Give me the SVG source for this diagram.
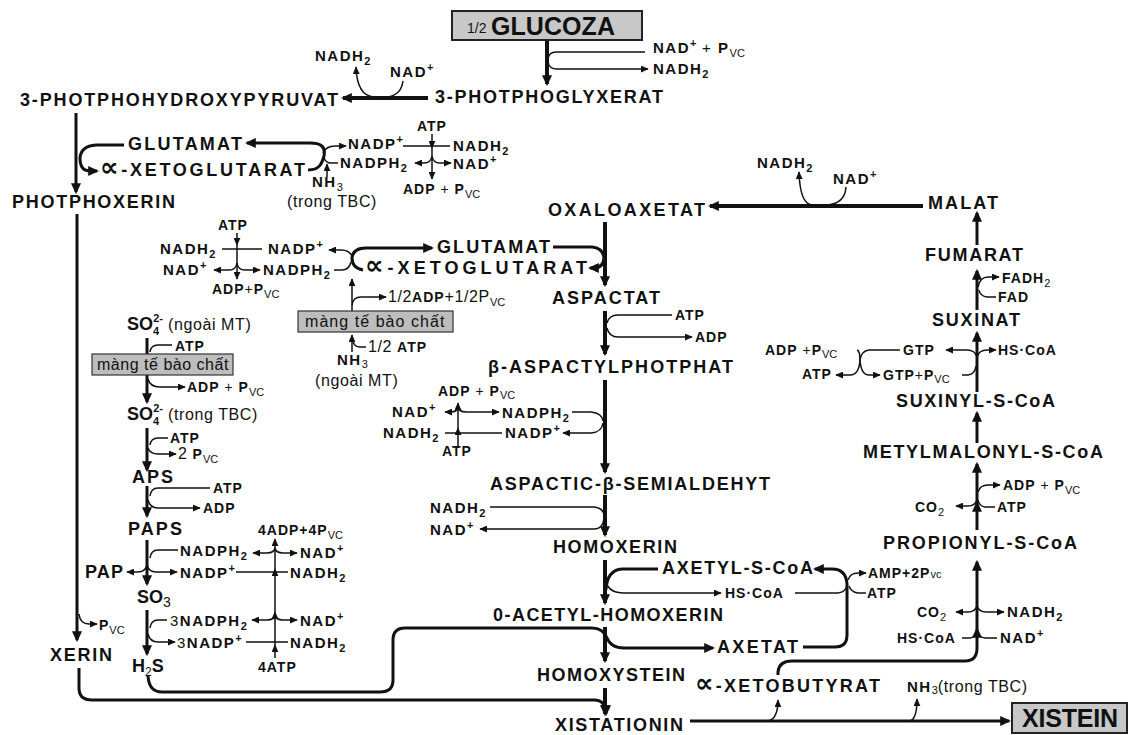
<svg xmlns="http://www.w3.org/2000/svg" width="1132" height="735" viewBox="0 0 1132 735">
<style>
.m{font-family:"Liberation Sans",Arial,"DejaVu Sans",sans-serif;font-weight:bold;font-size:18px;fill:#111}
.al{font-family:"DejaVu Sans",sans-serif;font-weight:bold;font-size:26px}
.big{font-family:"Liberation Sans",Arial,sans-serif;font-weight:bold;font-size:25px;fill:#111}
.n{font-family:"Liberation Sans",Arial,sans-serif;font-weight:bold;font-size:15px;letter-spacing:1.5px;fill:#111}
.s{font-family:"Liberation Sans",Arial,sans-serif;font-weight:bold;font-size:14px;letter-spacing:1px;fill:#111}
.r{font-family:"Liberation Sans",Arial,sans-serif;font-weight:normal;font-size:16px;letter-spacing:0.6px;fill:#111}
.sb{font-size:11px;letter-spacing:0}
.sbr{font-size:11px;font-weight:normal;letter-spacing:0}
.rr{font-weight:normal}
.k{stroke:#111;fill:none;stroke-width:4}
.t{stroke:#111;fill:none;stroke-width:3}
.h{stroke:#111;fill:none;stroke-width:1.5}
.box{fill:#c8c8c8;stroke:#222;stroke-width:2}
.mem{fill:#bdbdbd;stroke:#333;stroke-width:1.2}
</style>
<defs>
<marker id="a" viewBox="0 0 10 10" refX="9" refY="5" markerWidth="8" markerHeight="7" markerUnits="userSpaceOnUse" orient="auto" preserveAspectRatio="none"><path d="M0,0 L10,5 L0,10 z" fill="#111"/></marker>
<marker id="A" viewBox="0 0 10 10" refX="8" refY="5" markerWidth="11" markerHeight="10" markerUnits="userSpaceOnUse" orient="auto" preserveAspectRatio="none"><path d="M0,0 L10,5 L0,10 z" fill="#111"/></marker>
</defs>
<rect width="1132" height="735" fill="#fff"/>

<g id="connectors">
<path class="k" d="M547 41 L547 84" marker-end="url(#A)"/>
<path class="k" d="M428 98 L343 98" marker-end="url(#A)"/>
<path class="t" d="M76 113 L76 192" marker-end="url(#A)"/>
<path class="t" d="M77 214 L77 640" marker-end="url(#A)"/>
<path class="t" d="M79 668 L79 688 Q79 700 92 700 L594 700 Q606 700 606 714" marker-end="url(#A)"/>
<path class="k" d="M605 222 L605 285" marker-end="url(#A)"/>
<path class="k" d="M605 311 L605 354" marker-end="url(#A)"/>
<path class="k" d="M605 380 L605 472" marker-end="url(#A)"/>
<path class="k" d="M605 495 L605 535" marker-end="url(#A)"/>
<path class="k" d="M605 560 L605 603" marker-end="url(#A)"/>
<path class="k" d="M605 627 L605 661" marker-end="url(#A)"/>
<path class="k" d="M605 688 L605 714" marker-end="url(#A)"/>
<path class="k" d="M923 206 L710 206" marker-end="url(#A)"/>
<path class="t" d="M977 245 L977 213" marker-end="url(#A)"/>
<path class="t" d="M977 310 L977 271" marker-end="url(#A)"/>
<path class="t" d="M977 392 L977 333" marker-end="url(#A)"/>
<path class="t" d="M977 443 L977 413" marker-end="url(#A)"/>
<path class="t" d="M977 530 L977 503" marker-end="url(#A)"/>
<path class="t" d="M977 503 L977 464" marker-end="url(#A)"/>
<path class="t" d="M778 675 L778 672 Q779 661 792 661 L965 661 Q977 661 977 648 L977 629" marker-end="url(#A)"/>
<path class="t" d="M977 629 L977 562" marker-end="url(#A)"/>
<path class="t" d="M124 145 L96 145 Q81 146 80 158 Q80 171 90 171 L97 171" marker-end="url(#A)"/>
<path class="t" d="M308 170 C320 170 322 163 324 156 C326 146 320 143 310 143 L247 143" marker-end="url(#A)"/>
<path class="t" d="M363 270 Q352 268 352 258 Q353 248 366 248 L432 248" marker-end="url(#A)"/>
<path class="t" d="M553 247 L592 247 Q603 248 604 258 Q603 268 594 268 L590 268" marker-end="url(#A)"/>
<path class="t" d="M147 338 L147 402" marker-end="url(#A)"/>
<path class="t" d="M147 428 L147 470" marker-end="url(#A)"/>
<path class="t" d="M147 486 L147 516" marker-end="url(#A)"/>
<path class="t" d="M147 540 L147 584" marker-end="url(#A)"/>
<path class="t" d="M147 610 L147 654" marker-end="url(#A)"/>
<path class="t" d="M148 676 Q149 692 162 692 L380 692 Q393 692 393 680 L393 640 Q393 628 405 628 L592 628 Q603 628 607 638 Q611 648 624 648 L713 648" marker-end="url(#A)"/>
<path class="t" d="M606 590 Q607 570 622 569 L658 569"/>
<path class="t" d="M803 647 L835 647 Q847 647 847 635 L847 584 Q846 569 832 569 L815 569" marker-end="url(#A)"/>
<path class="t" d="M690 721 L1009 721" marker-end="url(#A)"/>

<path class="h" d="M645 52 L556 52 Q549 52 548 59"/>
<path class="h" d="M548 62 Q549 69 557 69 L648 69" marker-end="url(#a)"/>
<path class="h" d="M403 81 Q401 96 386 97 L374 97 Q357 96 356 67" marker-end="url(#a)"/>
<path class="h" d="M323 153 Q326 146 335 146 L346 146" marker-end="url(#a)"/>
<path class="h" d="M338 163 L331 163 Q326 163 324 158"/>
<path class="h" d="M327 177 L327 164" marker-end="url(#a)"/>
<path class="h" d="M432 134 L432 148" marker-end="url(#a)"/>
<path class="h" d="M432 148 L432 179" marker-end="url(#a)"/>
<path class="h" d="M403 146 L450 146"/>
<path class="h" d="M432 156 Q431 163 424 163 L415 163" marker-end="url(#a)"/>
<path class="h" d="M432 156 Q433 163 440 163 L451 163" marker-end="url(#a)"/>

<path class="h" d="M237 233 L237 245" marker-end="url(#a)"/>
<path class="h" d="M237 245 L237 279" marker-end="url(#a)"/>
<path class="h" d="M222 249 L262 249"/>
<path class="h" d="M237 263 Q236 270 229 270 L214 270" marker-end="url(#a)"/>
<path class="h" d="M237 263 Q238 270 245 270 L260 270" marker-end="url(#a)"/>
<path class="h" d="M352 256 Q349 250 341 250 L329 250" marker-end="url(#a)"/>
<path class="h" d="M334 270 L342 270 Q349 270 351 262"/>
<path class="h" d="M352 352 L352 335" marker-end="url(#a)"/>
<path class="h" d="M352 311 L352 279" marker-end="url(#a)"/>
<path class="h" d="M352 305 Q353 297 361 297 L386 297" marker-end="url(#a)"/>
<path class="h" d="M366 347 L360 347 Q354 347 353 341"/>

<path class="h" d="M150 352 Q151 345 158 345 L172 345"/>
<path class="h" d="M148 379 Q150 387 160 387 L185 387" marker-end="url(#a)"/>
<path class="h" d="M150 445 Q151 438 158 438 L168 438"/>
<path class="h" d="M148 448 Q150 454 158 454 L176 454" marker-end="url(#a)"/>
<path class="h" d="M150 496 Q151 488 158 488 L210 488"/>
<path class="h" d="M148 500 Q150 508 158 508 L200 508" marker-end="url(#a)"/>
<path class="h" d="M150 558 Q151 550 158 550 L178 550"/>
<path class="h" d="M147 565 Q145 572 138 572 L127 572" marker-end="url(#a)"/>
<path class="h" d="M147 565 Q149 572 156 572 L177 572" marker-end="url(#a)"/>
<path class="h" d="M150 628 Q151 620 158 620 L167 620"/>
<path class="h" d="M148 634 Q150 642 158 642 L175 642" marker-end="url(#a)"/>

<path class="h" d="M275 658 L275 645" marker-end="url(#a)"/>
<path class="h" d="M275 645 L275 612" marker-end="url(#a)"/>
<path class="h" d="M275 612 L275 569" marker-end="url(#a)"/>
<path class="h" d="M275 569 L275 539" marker-end="url(#a)"/>
<path class="h" d="M275 548 Q274 553 267 553 L253 553" marker-end="url(#a)"/>
<path class="h" d="M275 548 Q276 553 283 553 L297 553" marker-end="url(#a)"/>
<path class="h" d="M236 572 L288 572"/>
<path class="h" d="M275 615 Q274 620 267 620 L252 620" marker-end="url(#a)"/>
<path class="h" d="M275 615 Q276 620 283 620 L297 620" marker-end="url(#a)"/>
<path class="h" d="M246 642 L288 642"/>
<path class="h" d="M79 614 Q80 624 89 624 L97 624" marker-end="url(#a)"/>

<path class="h" d="M607 323 Q609 315 618 315 L672 315"/>
<path class="h" d="M607 328 Q609 337 618 337 L692 337" marker-end="url(#a)"/>
<path class="h" d="M572 412 L591 412 Q602 413 603 421"/>
<path class="h" d="M603 423 Q602 432 591 433 L563 433" marker-end="url(#a)"/>
<path class="h" d="M458 448 L458 428" marker-end="url(#a)"/>
<path class="h" d="M458 428 L458 403" marker-end="url(#a)"/>
<path class="h" d="M458 407 Q457 412 451 412 L445 412" marker-end="url(#a)"/>
<path class="h" d="M458 407 Q459 412 466 412 L499 412" marker-end="url(#a)"/>
<path class="h" d="M445 433 L502 433"/>
<path class="h" d="M490 507 L594 507 Q603 508 604 515"/>
<path class="h" d="M604 518 Q603 529 594 529 L480 529" marker-end="url(#a)"/>

<path class="h" d="M606 582 Q609 593 624 593 L721 593" marker-end="url(#a)"/>
<path class="h" d="M795 593 L838 593 Q846 592 847 585"/>
<path class="h" d="M848 580 Q850 573 858 573 L866 573" marker-end="url(#a)"/>
<path class="h" d="M866 593 L858 593 Q851 592 849 586"/>
<path class="h" d="M768 721 Q778 719 778 700" marker-end="url(#a)"/>
<path class="h" d="M910 721 Q917 719 917 699" marker-end="url(#a)"/>

<path class="h" d="M846 187 Q845 204 826 205 L812 205 Q800 204 799 172" marker-end="url(#a)"/>
<path class="h" d="M978 287 Q980 277 988 277 L999 277" marker-end="url(#a)"/>
<path class="h" d="M996 297 L987 297 Q980 296 979 290"/>
<path class="h" d="M977 357 Q975 350 967 350 L946 350" marker-end="url(#a)"/>
<path class="h" d="M977 357 Q979 350 987 350 L996 350" marker-end="url(#a)"/>
<path class="h" d="M962 375 L968 375 Q975 374 976 366"/>
<path class="h" d="M857 350 Q860 351 860 360"/>
<path class="h" d="M900 350 L869 350 Q861 351 860 360"/>
<path class="h" d="M860 360 Q859 375 850 375 L836 375" marker-end="url(#a)"/>
<path class="h" d="M860 360 Q861 375 869 375 L880 375" marker-end="url(#a)"/>
<path class="h" d="M978 492 Q980 485 988 485 L1000 485" marker-end="url(#a)"/>
<path class="h" d="M977 500 Q975 506 968 506 L956 506" marker-end="url(#a)"/>
<path class="h" d="M995 507 L985 507 Q979 506 978 500"/>
<path class="h" d="M977 606 Q975 612 968 612 L956 612" marker-end="url(#a)"/>
<path class="h" d="M977 606 Q979 612 986 612 L1004 612" marker-end="url(#a)"/>
<path class="h" d="M962 638 L970 638 Q976 637 977 631"/>
<path class="h" d="M997 638 L985 638 Q978 637 977 631"/>
</g>

<g id="glucoza"><rect class="box" x="452" y="11" width="190" height="29"/><text x="467" y="33" font-family="Liberation Sans, Arial, sans-serif" font-size="14" fill="#111">1/2</text><text class="big" x="491" y="35" textLength="124">GLUCOZA</text></g>
<g id="c-nadp-pvc"><text class="n" x="653" y="53">NAD<tspan class="sb" dy="-6">+</tspan><tspan class="rr" dy="6"> + </tspan>P<tspan class="sbr" dy="4">VC</tspan></text></g>
<g id="c-nadh2-a"><text class="n" x="653" y="74">NADH<tspan class="sb" dy="4">2</tspan></text></g>
<g id="pglyxerat"><text class="m" x="435" y="103" textLength="228">3-PHOTPHOGLYXERAT</text></g>
<g id="c-nad-a"><text class="n" x="390" y="77">NAD<tspan class="sb" dy="-6">+</tspan></text></g>
<g id="c-nadh2-b"><text class="n" x="315" y="61">NADH<tspan class="sb" dy="4">2</tspan></text></g>
<g id="phpyruvat"><text class="m" x="20" y="106" textLength="318">3-PHOTPHOHYDROXYPYRUVAT</text></g>
<g id="photphoxerin"><text class="m" x="12" y="208" textLength="163">PHOTPHOXERIN</text></g>
<g id="glutamat1"><text class="m" x="128" y="150" textLength="114">GLUTAMAT</text></g>
<g id="xetoglutarat1"><text class="m" x="100" y="176" textLength="205"><tspan class="al">∝</tspan>-XETOGLUTARAT</text></g>
<g id="c-nadp-b"><text class="n" x="348" y="149">NADP<tspan class="sb" dy="-6">+</tspan></text></g>
<g id="c-nadph2-b"><text class="n" x="340" y="168">NADPH<tspan class="sb" dy="4">2</tspan></text></g>
<g id="nh3-a"><text class="n" x="312" y="187">NH<tspan class="sbr" dy="4">3</tspan></text><text class="r" x="287" y="207" textLength="90">(trong TBC)</text></g>
<g id="c-atp-b"><text class="s" x="417" y="131">ATP</text></g>
<g id="c-nadh2-c"><text class="n" x="453" y="151">NADH<tspan class="sb" dy="4">2</tspan></text></g>
<g id="c-nad-c"><text class="n" x="453" y="169">NAD<tspan class="sb" dy="-6">+</tspan></text></g>
<g id="c-adp-c"><text class="s" x="403" y="194">ADP<tspan class="rr"> + </tspan>P<tspan class="sbr" dy="4">VC</tspan></text></g>

<g id="c-atp-d"><text class="s" x="218" y="230">ATP</text></g>
<g id="c-nadh2-d"><text class="n" x="160" y="254">NADH<tspan class="sb" dy="4">2</tspan></text></g>
<g id="c-nadp-d"><text class="n" x="268" y="254">NADP<tspan class="sb" dy="-6">+</tspan></text></g>
<g id="c-nad-d"><text class="n" x="163" y="275">NAD<tspan class="sb" dy="-6">+</tspan></text></g>
<g id="c-nadph2-d"><text class="n" x="263" y="275">NADPH<tspan class="sb" dy="4">2</tspan></text></g>
<g id="c-adp-d"><text class="s" x="212" y="294">ADP<tspan class="rr">+</tspan>P<tspan class="sbr" dy="4">VC</tspan></text></g>
<g id="glutamat2"><text class="m" x="437" y="253" textLength="113">GLUTAMAT</text></g>
<g id="xetoglutarat2"><text class="m" x="365" y="274" textLength="222"><tspan class="al">∝</tspan>-XETOGLUTARAT</text></g>
<g id="c-halfadp"><text class="r" x="388" y="302" font-size="14">1/2<tspan class="s">ADP</tspan>+1/2P<tspan class="sb" dy="4">VC</tspan></text></g>
<g id="membrane2"><rect class="mem" x="298" y="311" width="155" height="21"/><text class="r" x="305" y="327" font-size="15" textLength="140">màng tế bào chất</text></g>
<g id="c-halfatp"><text class="r" x="368" y="352" font-size="14">1/2 <tspan class="s">ATP</tspan></text></g>
<g id="nh3-b"><text class="n" x="337" y="365">NH<tspan class="sbr" dy="3">3</tspan></text><text class="r" x="315" y="386">(ngoài MT)</text></g>

<g id="so4-out"><text class="m" x="127" y="330">SO<tspan class="sb" dy="5">4</tspan><tspan class="sb" dx="-6" dy="-13">2-</tspan></text><text class="r" x="168" y="330">(ngoài MT)</text></g>
<g id="c-atp-e"><text class="s" x="175" y="351">ATP</text></g>
<g id="membrane1"><rect class="mem" x="92" y="354" width="141" height="21"/><text class="r" x="97" y="370" font-size="15" textLength="132">màng tế bào chất</text></g>
<g id="c-adp-e"><text class="s" x="187" y="392">ADP<tspan class="rr"> + </tspan>P<tspan class="sbr" dy="4">VC</tspan></text></g>
<g id="so4-in"><text class="m" x="127" y="420">SO<tspan class="sb" dy="5">4</tspan><tspan class="sb" dx="-6" dy="-13">2-</tspan></text><text class="r" x="168" y="420">(trong TBC)</text></g>
<g id="c-atp-f"><text class="s" x="170" y="443">ATP</text></g>
<g id="c-2pvc"><text class="r" x="178" y="459" font-size="14">2 <tspan class="s">P</tspan><tspan class="sb" dy="4">VC</tspan></text></g>
<g id="aps"><text class="m" x="132" y="483" textLength="41">APS</text></g>
<g id="c-atp-g"><text class="s" x="213" y="493">ATP</text></g>
<g id="c-adp-g"><text class="s" x="203" y="513">ADP</text></g>
<g id="paps"><text class="m" x="128" y="535" textLength="54">PAPS</text></g>
<g id="c-nadph2-h"><text class="n" x="180" y="556">NADPH<tspan class="sb" dy="4">2</tspan></text></g>
<g id="pap"><text class="m" x="85" y="578" textLength="38">PAP</text></g>
<g id="c-nadp-h"><text class="n" x="180" y="578">NADP<tspan class="sb" dy="-6">+</tspan></text></g>
<g id="so3"><text class="m" x="137" y="603">SO<tspan class="rr" font-size="14" dy="4">3</tspan></text></g>
<g id="c-3nadph2"><text class="n" x="170" y="626"><tspan class="rr">3</tspan>NADPH<tspan class="sb" dy="4">2</tspan></text></g>
<g id="c-3nadp"><text class="n" x="177" y="648"><tspan class="rr">3</tspan>NADP<tspan class="sb" dy="-6">+</tspan></text></g>
<g id="h2s"><text class="m" x="132" y="672">H<tspan class="rr" font-size="12" dy="4">2</tspan><tspan dy="-4">S</tspan></text></g>
<g id="c-4adp"><text class="s" x="258" y="535">4ADP+4P<tspan class="sbr" dy="4">VC</tspan></text></g>
<g id="c-nad-i1"><text class="n" x="300" y="558">NAD<tspan class="sb" dy="-6">+</tspan></text></g>
<g id="c-nadh2-i1"><text class="n" x="290" y="578">NADH<tspan class="sb" dy="4">2</tspan></text></g>
<g id="c-nad-i2"><text class="n" x="300" y="626">NAD<tspan class="sb" dy="-6">+</tspan></text></g>
<g id="c-nadh2-i2"><text class="n" x="290" y="648">NADH<tspan class="sb" dy="4">2</tspan></text></g>
<g id="c-4atp"><text class="s" x="258" y="672">4ATP</text></g>
<g id="c-pvc-x"><text class="s" x="99" y="630">P<tspan class="sbr" dy="4">VC</tspan></text></g>
<g id="xerin"><text class="m" x="50" y="661" textLength="62">XERIN</text></g>

<g id="oxaloaxetat"><text class="m" x="548" y="216" textLength="157">OXALOAXETAT</text></g>
<g id="malat"><text class="m" x="928" y="209" textLength="70">MALAT</text></g>
<g id="c-nadh2-j"><text class="n" x="757" y="168">NADH<tspan class="sb" dy="4">2</tspan></text></g>
<g id="c-nad-j"><text class="n" x="833" y="184">NAD<tspan class="sb" dy="-6">+</tspan></text></g>
<g id="aspactat"><text class="m" x="552" y="304" textLength="108">ASPACTAT</text></g>
<g id="c-atp-k"><text class="s" x="675" y="320">ATP</text></g>
<g id="c-adp-k"><text class="s" x="695" y="342">ADP</text></g>
<g id="aspphotphat"><text class="m" x="488" y="373" textLength="245">β-ASPACTYLPHOTPHAT</text></g>
<g id="c-adp-l"><text class="s" x="438" y="396">ADP<tspan class="rr"> + </tspan>P<tspan class="sbr" dy="3">VC</tspan></text></g>
<g id="c-nad-l"><text class="n" x="392" y="417">NAD<tspan class="sb" dy="-6">+</tspan></text></g>
<g id="c-nadph2-l"><text class="n" x="502" y="418">NADPH<tspan class="sb" dy="4">2</tspan></text></g>
<g id="c-nadh2-l"><text class="n" x="383" y="438">NADH<tspan class="sb" dy="4">2</tspan></text></g>
<g id="c-nadp-l"><text class="n" x="505" y="438">NADP<tspan class="sb" dy="-6">+</tspan></text></g>
<g id="c-atp-l"><text class="s" x="442" y="456">ATP</text></g>
<g id="semialdehyt"><text class="m" x="490" y="490" textLength="280">ASPACTIC-β-SEMIALDEHYT</text></g>
<g id="c-nadh2-m"><text class="n" x="430" y="513">NADH<tspan class="sb" dy="4">2</tspan></text></g>
<g id="c-nad-m"><text class="n" x="430" y="535">NAD<tspan class="sb" dy="-6">+</tspan></text></g>
<g id="homoxerin"><text class="m" x="553" y="553" textLength="124">HOMOXERIN</text></g>
<g id="axetylscoa"><text class="m" x="662" y="574" textLength="151">AXETYL-S-CoA</text></g>
<g id="c-hscoa-n"><text class="s" x="725" y="598">HS·CoA</text></g>
<g id="c-amp"><text class="s" x="868" y="578">AMP+2P<tspan class="sbr" font-size="12">vc</tspan></text></g>
<g id="c-atp-n"><text class="s" x="867" y="598">ATP</text></g>
<g id="acetylhomoxerin"><text class="m" x="493" y="621" textLength="230">0-ACETYL-HOMOXERIN</text></g>
<g id="axetat"><text class="m" x="717" y="653" textLength="81">AXETAT</text></g>
<g id="homoxystein"><text class="m" x="537" y="681" textLength="148">HOMOXYSTEIN</text></g>
<g id="xetobutyrat"><text class="m" x="695" y="692" textLength="185"><tspan class="al">∝</tspan>-XETOBUTYRAT</text></g>
<g id="nh3-c"><text class="n" x="907" y="692">NH<tspan class="sbr" font-size="14" dy="2">3</tspan><tspan class="r" font-size="14" dy="-2" letter-spacing="0">(trong TBC)</tspan></text></g>
<g id="xistationin"><text class="m" x="555" y="731" textLength="128">XISTATIONIN</text></g>
<g id="xistein"><rect class="box" x="1012" y="703" width="115" height="30"/><text class="big" x="1022" y="727" font-size="24" textLength="96">XISTEIN</text></g>

<g id="fumarat"><text class="m" x="925" y="261" textLength="98">FUMARAT</text></g>
<g id="c-fadh2"><text class="s" x="1002" y="283">FADH<tspan class="sbr" dy="4">2</tspan></text></g>
<g id="c-fad"><text class="s" x="998" y="302">FAD</text></g>
<g id="suxinat"><text class="m" x="932" y="326" textLength="88">SUXINAT</text></g>
<g id="c-gtp"><text class="s" x="903" y="355">GTP</text></g>
<g id="c-hscoa-o"><text class="s" x="998" y="355">HS·CoA</text></g>
<g id="c-adp-o"><text class="s" x="765" y="355">ADP<tspan class="rr"> +</tspan>P<tspan class="sbr" dy="3">VC</tspan></text></g>
<g id="c-atp-o"><text class="s" x="802" y="379">ATP</text></g>
<g id="c-gtppvc"><text class="s" x="883" y="380">GTP<tspan class="rr">+</tspan>P<tspan class="sbr" dy="3">VC</tspan></text></g>
<g id="suxinylscoa"><text class="m" x="896" y="407" textLength="159">SUXINYL-S-CoA</text></g>
<g id="metylmalonyl"><text class="m" x="863" y="458" textLength="240">METYLMALONYL-S-CoA</text></g>
<g id="c-adp-p"><text class="s" x="1003" y="490">ADP<tspan class="rr"> + </tspan>P<tspan class="sbr" dy="4">VC</tspan></text></g>
<g id="c-co2-p"><text class="s" x="915" y="512">CO<tspan class="sbr" dy="4">2</tspan></text></g>
<g id="c-atp-p"><text class="s" x="997" y="512">ATP</text></g>
<g id="propionyl"><text class="m" x="883" y="549" textLength="194">PROPIONYL-S-CoA</text></g>
<g id="c-co2-q"><text class="s" x="917" y="617">CO<tspan class="sbr" dy="4">2</tspan></text></g>
<g id="c-nadh2-q"><text class="n" x="1007" y="617">NADH<tspan class="sb" dy="4">2</tspan></text></g>
<g id="c-hscoa-q"><text class="s" x="897" y="643">HS·CoA</text></g>
<g id="c-nad-q"><text class="n" x="1000" y="643">NAD<tspan class="sb" dy="-6">+</tspan></text></g>
</svg>
